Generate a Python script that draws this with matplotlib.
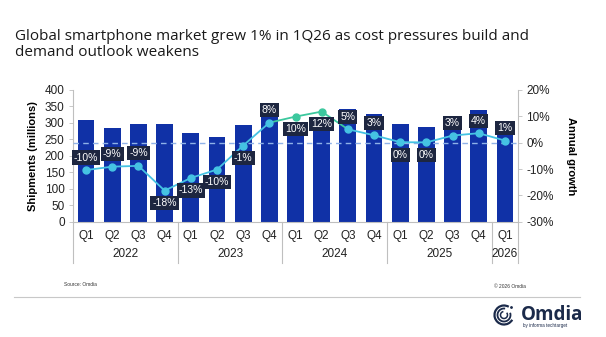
import matplotlib
matplotlib.use("Agg")
from matplotlib import pyplot as plt
from matplotlib import transforms
from matplotlib.patches import Arc, Circle

plt.rcParams['font.family'] = ['Liberation Sans', 'DejaVu Sans']

# dados
quarters = ['Q1', 'Q2', 'Q3', 'Q4'] * 4 + ['Q1']
years = ['2022', '2023', '2024', '2025', '2026']
year_size = [4, 4, 4, 4, 1]
shipments = [309, 286, 296, 296, 268, 257, 293, 326, 304, 288, 341, 327, 296, 288, 318, 339, 299]
growth = [-10.4, -9.1, -8.8, -18.2, -13.4, -10.2, -1.1, 7.6, 9.9, 11.8, 5.1, 2.8, 0.2, 0.1, 2.7, 3.6, 0.8]
growth_labels = ['-10%', '-9%', '-9%', '-18%', '-13%', '-10%', '-1%', '8%', '10%', '12%',
                 '5%', '3%', '0%', '0%', '3%', '4%', '1%']
label_side = [1, 1, 1, -1, -1, -1, -1, 1, -1, -1, 1, 1, -1, -1, 1, 1, 1]

bar_color = '#1031a6'
line_color = '#45c3e3'
green = '#3cc89e'
box_color = '#1d2640'
grey = '#bfbfbf'

x = list(range(len(shipments)))

fig = plt.figure(figsize=(6.06, 3.37), dpi=100)
W, H = 606, 337
ax = fig.add_axes([73 / W, 1 - 221.7 / H, 445 / W, 131.7 / H])

ax.bar(x, shipments, width=0.64, color=bar_color, zorder=2)
ax.set_xlim(-0.5, len(x) - 0.5)
ax.set_ylim(0, 400)
ax.set_yticks(range(0, 401, 50))
ax.set_xticks(x, quarters)
ax.tick_params(axis='x', length=0, pad=6, labelsize=8.5, colors='#222222')
ax.tick_params(axis='y', length=3, width=0.6, color=grey, pad=3, labelsize=8.5, labelcolor='#222222')
for s in ['top', 'right']:
    ax.spines[s].set_visible(False)
ax.spines['left'].set_color(grey)
ax.spines['bottom'].set_color(grey)
ax.set_ylabel('Shipments (millions)', fontsize=8, fontweight='bold', labelpad=5)

# linhas de separação dos anos e rótulos dos anos
trans = transforms.blended_transform_factory(ax.transData, ax.transAxes)
pos = -0.5
for yr, n in zip(years, year_size):
    ax.plot([pos, pos], [0, -0.31], transform=trans, color=grey, lw=0.8, clip_on=False)
    ax.text(pos + n / 2, -0.245, yr, transform=trans, ha='center', va='center', fontsize=8.5, color='#222222')
    pos += n
ax.plot([pos, pos], [0, -0.31], transform=trans, color=grey, lw=0.8, clip_on=False)

# eixo da direita: crescimento anual
ax2 = ax.twinx()
ax2.set_ylim(-30, 20)
ax2.set_yticks(range(-30, 21, 10))
ax2.set_yticklabels([f'{v}%' for v in range(-30, 21, 10)])
ax2.tick_params(axis='y', length=3, width=0.6, color=grey, pad=3, labelsize=8.5, labelcolor='#222222')
for s in ['top', 'left', 'bottom']:
    ax2.spines[s].set_visible(False)
ax2.spines['right'].set_color(grey)
ax2.set_ylabel('Annual growth', fontsize=8, fontweight='bold', rotation=-90, labelpad=16)

ax2.axhline(0, color='#8fb2e8', lw=1, ls=(0, (4, 3)), zorder=1)

for i in range(len(x) - 1):
    c = green if 7 <= i <= 9 else line_color
    ax2.plot(x[i:i + 2], growth[i:i + 2], color=c, lw=1.3, zorder=3)
for i in x:
    c = green if i in (8, 9) else line_color
    ax2.plot(x[i], growth[i], 'o', ms=5, color=c, zorder=4)

for i in x:
    ax2.annotate(growth_labels[i], (x[i], growth[i]), xytext=(0, 9 * label_side[i]),
                 textcoords='offset points', ha='center', va='center', fontsize=7.5, color='white', zorder=5,
                 bbox=dict(boxstyle='square,pad=0.2', fc=box_color, ec='none'))

# título
fig.text(15 / W, 1 - 29 / H, 'Global smartphone market grew 1% in 1Q26 as cost pressures build and\ndemand outlook weakens',
         ha='left', va='top', fontsize=11, family='Open Sans', color='#1a1a1a', linespacing=1.1)

# rodapé
fig.text(64 / W, 1 - 284 / H, 'Source: Omdia', fontsize=3.5, va='center', color='#333333')
fig.text(494 / W, 1 - 286 / H, '© 2026 Omdia', fontsize=3.5, va='center', color='#333333')
fig.add_artist(plt.Line2D([14 / W, 580 / W], [1 - 297 / H, 1 - 297 / H], color='#c8c8c8', lw=0.8))
fig.text(521 / W, 1 - 315 / H, 'Omdia', fontsize=13.5, fontweight='bold', va='center', color='#1b2a4a',
         family='Open Sans')
fig.text(523 / W, 1 - 326 / H, 'by informa techtarget', fontsize=3.3, va='center', color='#1b2a4a')

# ícone
axi = fig.add_axes([493 / W, 1 - 326 / H, 22 / W, 22 / H])
axi.set_xlim(-1.1, 1.1)
axi.set_ylim(-1.1, 1.1)
axi.set_aspect('equal')
axi.axis('off')
axi.add_patch(Arc((0, 0), 1.9, 1.9, theta1=60, theta2=330, color='#1b2a4a', lw=1.6))
axi.add_patch(Arc((0, 0), 1.3, 1.3, theta1=80, theta2=20, color='#1b2a4a', lw=1.3))
axi.add_patch(Arc((0, 0), 0.7, 0.7, theta1=100, theta2=40, color='#1b2a4a', lw=1.1))
axi.add_patch(Circle((0.75, 0.75), 0.07, color='#1b2a4a'))

fig.savefig('out.png', dpi=100)
